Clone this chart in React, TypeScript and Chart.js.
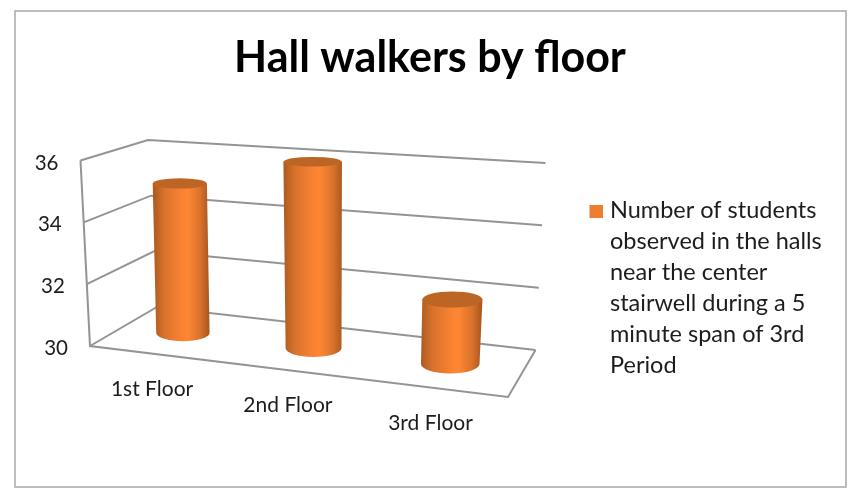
import React, { useEffect, useRef } from 'react';
import { Chart, registerables } from 'chart.js';

Chart.register(...registerables);

const categories = ['1st Floor', '2nd Floor', '3rd Floor'];
const students = [35, 36, 32];
const legendLines = [
  'Number of students',
  'observed in the halls',
  'near the center',
  'stairwell during a 5',
  'minute span of 3rd',
  'Period',
];

const FONT = 'Lato';
const ORANGE = '#ed7d31';
const LINE = '#949494';
const TEXT = '#1c1c1c';

// box corners on screen: front-left, front-right, back-right, back-left
const floorCorners = [[90, 346], [508, 397], [535.5, 350], [157, 307]];
const topCorners = [[80.5, 160.5], [519, 189], [545.5, 163], [148, 140]];

// unit square to quad, gives the 3D box its perspective
function quadMap(q: number[][]) {
  const [[x0, y0], [x1, y1], [x2, y2], [x3, y3]] = q;
  const dx1 = x1 - x2, dx2 = x3 - x2, sx = x0 - x1 + x2 - x3;
  const dy1 = y1 - y2, dy2 = y3 - y2, sy = y0 - y1 + y2 - y3;
  const den = dx1 * dy2 - dx2 * dy1;
  const g = (sx * dy2 - dx2 * sy) / den;
  const h = (dx1 * sy - sx * dy1) / den;
  const a = x1 - x0 + g * x1, b = x3 - x0 + h * x3;
  const d = y1 - y0 + g * y1, e = y3 - y0 + h * y3;
  return (u: number, v: number) => {
    const w = g * u + h * v + 1;
    return { x: (a * u + b * v + x0) / w, y: (d * u + e * v + y0) / w };
  };
}

const floorMap = quadMap(floorCorners);
const topMap = quadMap(topCorners);

function project(u: number, depth: number, height: number) {
  const a = floorMap(u, depth);
  const b = topMap(u, depth);
  return { x: a.x + (b.x - a.x) * height, y: a.y + (b.y - a.y) * height };
}

const box3d = {
  id: 'box3d',
  beforeDraw(chart: any) {
    const { ctx } = chart;
    ctx.save();
    ctx.strokeStyle = '#a8a8a8';
    ctx.lineWidth = 1.5;
    ctx.strokeRect(15, 11, 831, 476);
    ctx.restore();
  },
  beforeDatasetsDraw(chart: any) {
    const { ctx, chartArea, scales } = chart;
    const yScale = scales.y;
    ctx.save();
    ctx.strokeStyle = LINE;
    ctx.lineWidth = 2;

    // walls
    yScale.ticks.forEach((tick: any) => {
      const h = (chartArea.bottom - yScale.getPixelForValue(tick.value)) / chartArea.height;
      const a = project(0, 0, h);
      const b = project(0, 1, h);
      const c = project(1, 1, h);
      ctx.beginPath();
      ctx.moveTo(a.x, a.y);
      ctx.lineTo(b.x, b.y);
      ctx.lineTo(c.x, c.y);
      ctx.stroke();
    });

    // front left edge and floor
    const topLeft = project(0, 0, 1);
    const fl = project(0, 0, 0);
    const fr = project(1, 0, 0);
    const br = project(1, 1, 0);
    ctx.beginPath();
    ctx.moveTo(topLeft.x, topLeft.y);
    ctx.lineTo(fl.x, fl.y);
    ctx.lineTo(fr.x, fr.y);
    ctx.lineTo(br.x, br.y);
    ctx.stroke();
    ctx.restore();

    // tick labels follow the box edges
    ctx.save();
    ctx.fillStyle = TEXT;
    ctx.font = `20.5px ${FONT}`;
    ctx.textBaseline = 'middle';
    ctx.textAlign = 'right';
    yScale.ticks.forEach((tick: any) => {
      const h = (chartArea.bottom - yScale.getPixelForValue(tick.value)) / chartArea.height;
      const p = project(0, 0, h);
      ctx.fillText(String(tick.value), p.x - 22, p.y + 2.5);
    });
    ctx.font = `21px ${FONT}`;
    ctx.textAlign = 'center';
    categories.forEach((label, i) => {
      const u = (scales.x.getPixelForValue(i) - chartArea.left) / chartArea.width;
      const p = project(u, 0, 0);
      ctx.fillText(label, p.x - 3.5, p.y + 35);
    });
    ctx.restore();
  },
  afterDatasetsDraw(chart: any) {
    const { ctx, chartArea } = chart;
    const meta = chart.getDatasetMeta(0);
    const depth = 0.5;
    const depthR = 0.21;

    meta.data.forEach((bar: any) => {
      const u = (bar.x - chartArea.left) / chartArea.width;
      const uR = bar.width / chartArea.width / 2;
      const h = (chartArea.bottom - bar.y) / chartArea.height;

      const end = (height: number) => {
        const c = project(u, depth, height);
        const l = project(u - uR, depth, height);
        const r = project(u + uR, depth, height);
        const near = project(u, depth - depthR, height);
        const far = project(u, depth + depthR, height);
        // cylinders lean a little less than the walls
        const x = c.x + (1 - height) * (-5.5 + 4 * u);
        return { x, y: c.y, rx: (r.x - l.x) / 2, ry: Math.abs(near.y - far.y) / 2 };
      };
      const bottom = end(0);
      const top = end(h);

      const midX = (bottom.x + top.x) / 2;
      const midR = (bottom.rx + top.rx) / 2;
      const grad = ctx.createLinearGradient(midX - midR, 0, midX + midR, 0);
      grad.addColorStop(0, '#b05c22');
      grad.addColorStop(0.18, '#d8722c');
      grad.addColorStop(0.5, '#f98232');
      grad.addColorStop(0.62, '#ff8633');
      grad.addColorStop(0.85, '#d9722c');
      grad.addColorStop(1, '#ad5a20');

      ctx.save();
      ctx.beginPath();
      ctx.moveTo(top.x - top.rx, top.y);
      ctx.lineTo(bottom.x - bottom.rx, bottom.y);
      ctx.ellipse(bottom.x, bottom.y, bottom.rx, bottom.ry, 0, Math.PI, 0, true);
      ctx.lineTo(top.x + top.rx, top.y);
      ctx.closePath();
      ctx.fillStyle = grad;
      ctx.fill();

      ctx.beginPath();
      ctx.ellipse(top.x, top.y, top.rx, top.ry, 0, 0, Math.PI * 2);
      ctx.fillStyle = '#bd6524';
      ctx.fill();
      ctx.restore();
    });

    // legend
    ctx.save();
    ctx.fillStyle = ORANGE;
    ctx.fillRect(589.5, 205, 13.5, 13);
    ctx.fillStyle = TEXT;
    ctx.font = `23.5px ${FONT}`;
    ctx.textAlign = 'left';
    ctx.textBaseline = 'middle';
    legendLines.forEach((line, i) => {
      ctx.fillText(line, 610, 210.5 + i * 31);
    });
    ctx.restore();
  },
};

export default function App() {
  const canvasRef = useRef<HTMLCanvasElement>(null);

  useEffect(() => {
    if (!canvasRef.current) return;
    const chart = new Chart(canvasRef.current, {
      type: 'bar',
      data: {
        labels: categories,
        datasets: [
          {
            label: legendLines.join(' '),
            data: students,
            backgroundColor: 'rgba(0,0,0,0)',
            barPercentage: 0.65,
            categoryPercentage: 0.65,
          },
        ],
      },
      options: {
        responsive: false,
        animation: false,
        layout: { padding: { left: 15, right: 15, top: 0, bottom: 155 } },
        plugins: {
          legend: { display: false },
          tooltip: { enabled: false },
          title: {
            display: true,
            text: 'Hall walkers by floor',
            color: '#000',
            font: { family: FONT, weight: 'bold', size: 43, lineHeight: 1.2 },
            padding: { top: 32, bottom: 76.4 },
          },
        },
        scales: {
          x: {
            ticks: { display: false },
            grid: { display: false },
            border: { display: false },
          },
          y: {
            min: 30,
            max: 36,
            ticks: { display: false, stepSize: 2 },
            grid: { display: false },
            border: { display: false },
          },
        },
      },
      plugins: [box3d],
    });

    return () => {
      chart.destroy();
    };
  }, []);

  return (
    <div style={{ position: 'absolute', left: 0, top: 0, width: 860, height: 501 }}>
      <canvas ref={canvasRef} width={860} height={501} />
    </div>
  );
}
